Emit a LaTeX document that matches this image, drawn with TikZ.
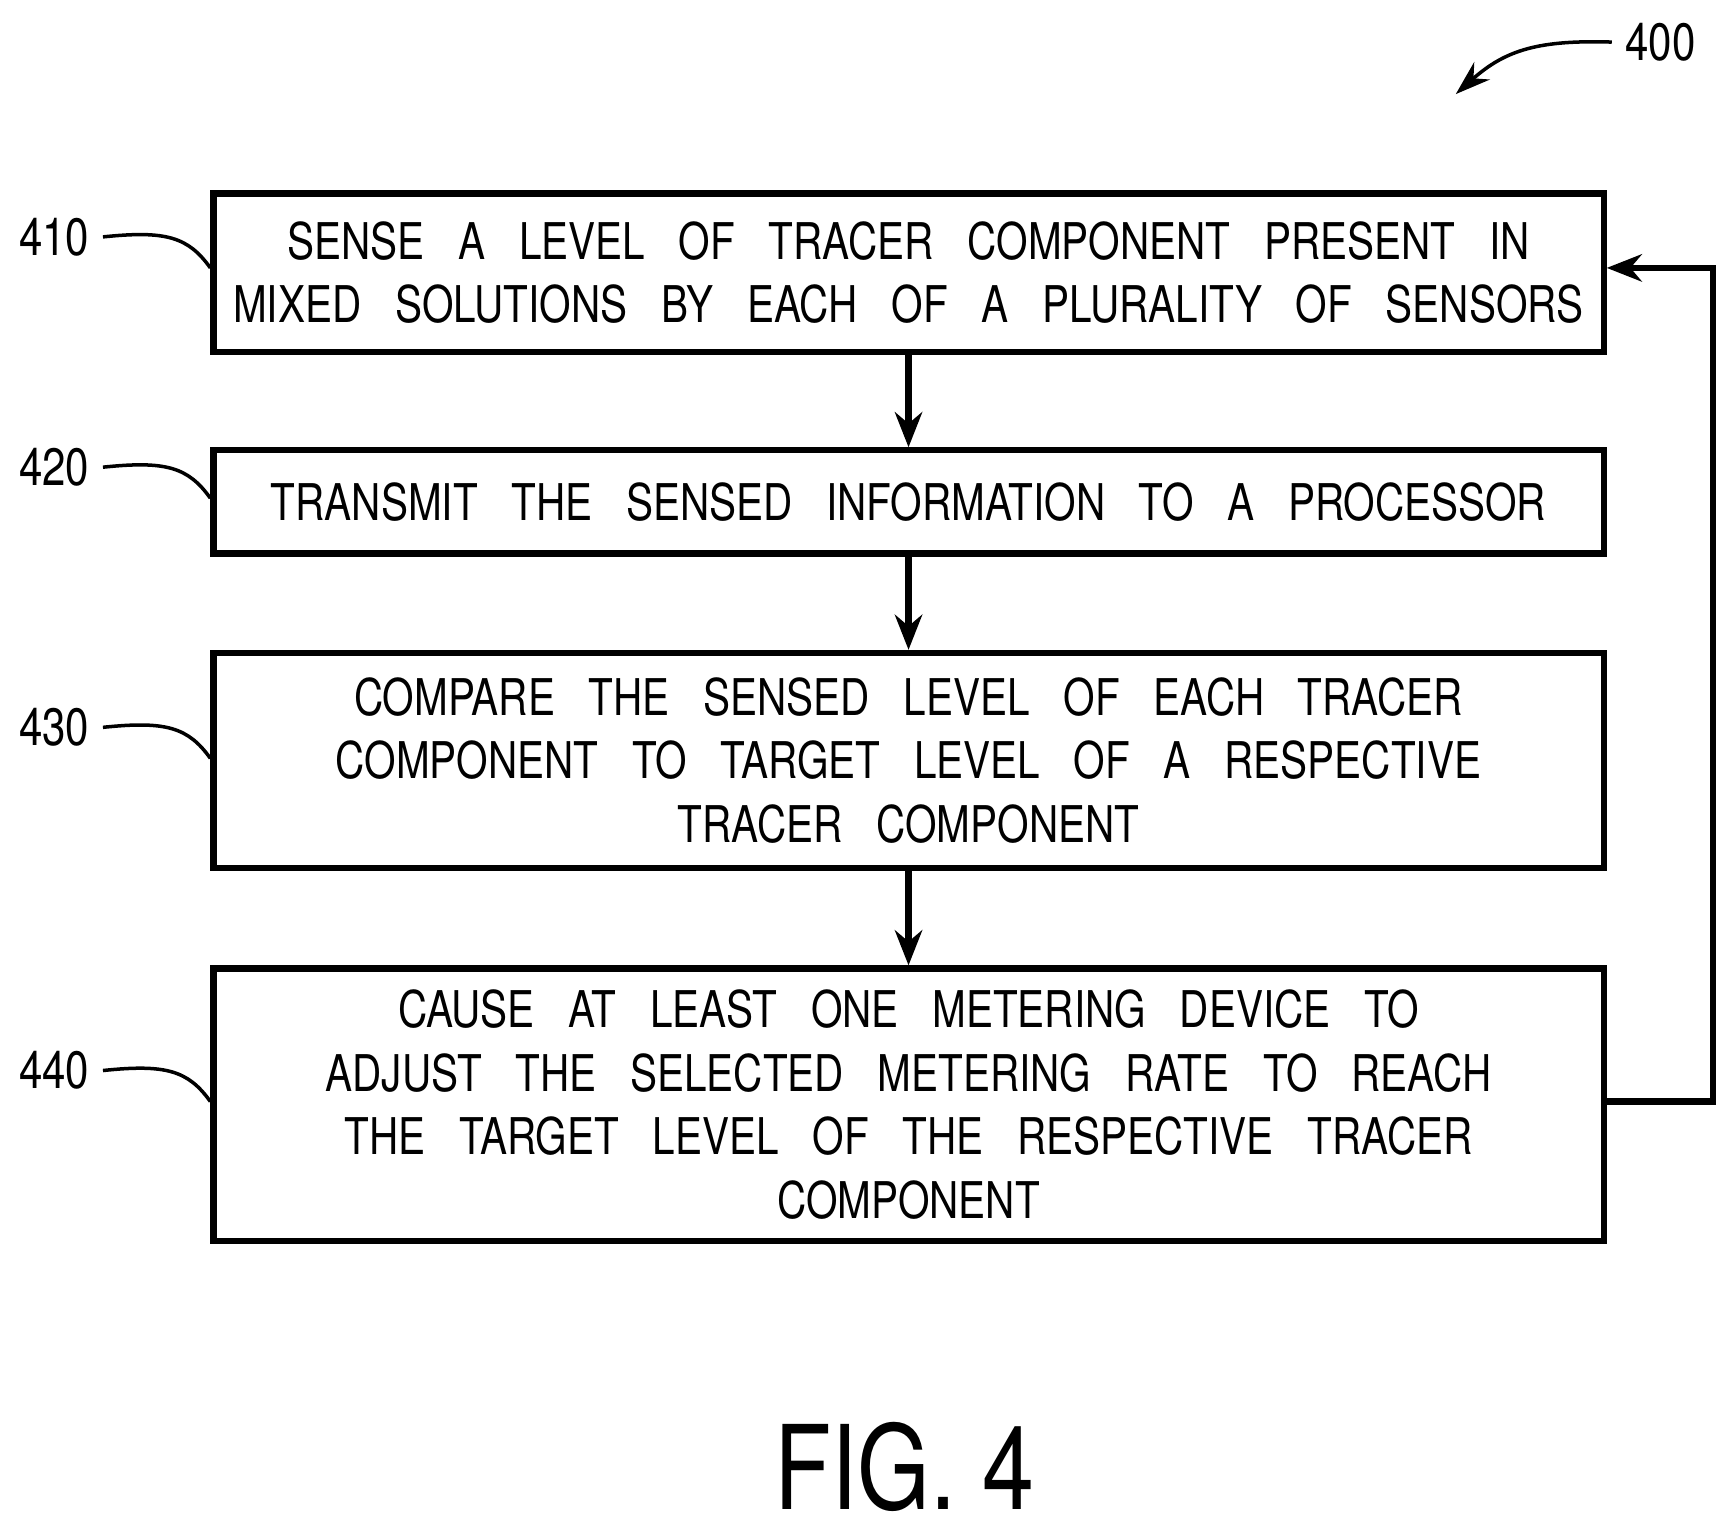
\documentclass[tikz,border=0pt]{standalone}
\usepackage{fontspec}
\setmainfont[FakeStretch=0.8]{TeX Gyre Heros}
\usetikzlibrary{arrows.meta}
\begin{document}
\begin{tikzpicture}[x=0.01cm,y=-0.01cm,
  box/.style={draw,line width=1.6pt,minimum width=12.55cm,text width=12.4cm,anchor=north west,inner sep=0pt,align=center,font=\fontsize{13}{16.3}\selectfont},
  arr/.style={line width=1.6pt,-{Stealth[length=9pt,width=7pt]}},
  lead/.style={line width=0.9pt},
  num/.style={font=\fontsize{13.5}{16}\selectfont}]
\useasboundingbox (0,0) rectangle (1560,1372);
\node[box,minimum height=1.43cm] (b1) at (190,172) {SENSE\ \ A\ \ LEVEL\ \ OF\ \ TRACER\ \ COMPONENT\ \ PRESENT\ \ IN\\MIXED\ \ SOLUTIONS\ \ BY\ \ EACH\ \ OF\ \ A\ \ PLURALITY\ \ OF\ \ SENSORS};
\node[box,minimum height=0.93cm] (b2) at (190,404) {TRANSMIT\ \ THE\ \ SENSED\ \ INFORMATION\ \ TO\ \ A\ \ PROCESSOR};
\node[box,minimum height=1.94cm] (b3) at (190,587) {COMPARE\ \ THE\ \ SENSED\ \ LEVEL\ \ OF\ \ EACH\ \ TRACER\\COMPONENT\ \ TO\ \ TARGET\ \ LEVEL\ \ OF\ \ A\ \ RESPECTIVE\\TRACER\ \ COMPONENT};
\node[box,minimum height=2.46cm] (b4) at (190,872) {CAUSE\ \ AT\ \ LEAST\ \ ONE\ \ METERING\ \ DEVICE\ \ TO\\ADJUST\ \ THE\ \ SELECTED\ \ METERING\ \ RATE\ \ TO\ \ REACH\\THE\ \ TARGET\ \ LEVEL\ \ OF\ \ THE\ \ RESPECTIVE\ \ TRACER\\COMPONENT};
\draw[arr] (b1.south) -- (b2.north);
\draw[arr] (b2.south) -- (b3.north);
\draw[arr] (b3.south) -- (b4.north);
\coordinate (r1) at (1547,995);
\coordinate (r2) at (1547,242);
\draw[arr] (b4.east |- r1) -- (r1) -- (r2) -- (b1.east |- r2);
\foreach \n/\y in {410/214,420/422,430/657,440/967}{
  \node[num,anchor=east] (l\n) at (93,\y) {\n};
  \draw[lead] (l\n.east) .. controls (150,\y-6) and (170,\y) .. (190,\y+28);
}
\node[num] (l400) at (1500,38) {400};
\coordinate (a400) at (1315,85);
\draw[lead,-{Stealth[length=9pt,width=6pt]}] (l400.west) .. controls (1390,36) and (1360,45) .. (a400);
\node[font=\fontsize{30}{34}\selectfont] (fig) at (817,1325) {FIG. 4};
\end{tikzpicture}
\end{document}
